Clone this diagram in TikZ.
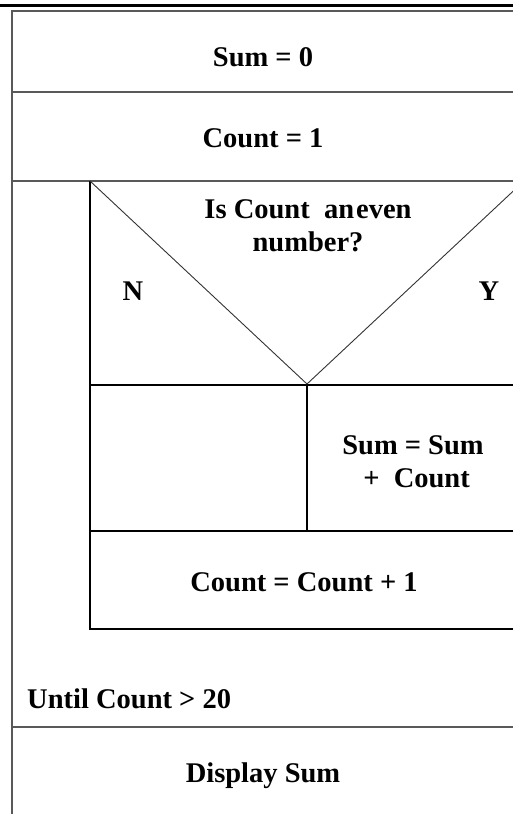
\documentclass[tikz,border=0pt]{standalone}
\usepackage{fontspec}
\setmainfont{Liberation Serif}
\begin{document}
\begin{tikzpicture}[x=1pt,y=-1pt,
  outer/.style={draw=black!65, line width=1.2pt},
  inner/.style={draw=black, line width=1.2pt},
  diag/.style={draw=black!80, line width=0.9pt},
  lbl/.style={font=\fontsize{28.5}{33}\selectfont\bfseries, inner sep=0pt, align=center}]
\clip (0,0) rectangle (513,814);
\fill[white] (0,0) rectangle (513,814);
% header rule
\draw[line width=3pt] (0,5.5) -- (513,5.5);
% outer frame coordinates
\coordinate (o1) at (12,11);
\coordinate (o2) at (524,11);
\coordinate (s1) at (12,92);
\coordinate (s2) at (524,92);
\coordinate (c1) at (12,181);
\coordinate (c2) at (524,181);
\coordinate (u1) at (12,727);
\coordinate (u2) at (524,727);
\coordinate (ob) at (12,830);
% inner frame
\coordinate (i1) at (90,181);
\coordinate (apex) at (307,384);
\coordinate (d1) at (90,385);
\coordinate (d2) at (524,385);
\coordinate (m1) at (307,385);
\coordinate (m2) at (307,531);
\coordinate (e1) at (90,531);
\coordinate (e2) at (524,531);
\coordinate (f1) at (90,629);
\coordinate (f2) at (524,629);
% outer lines
\draw[outer] (o2) -- (o1) -- (ob);
\draw[outer] (s1) -- (s2);
\draw[outer] (c1) -- (c2);
\draw[outer] (u1) -- (u2);
% inner lines
\draw[inner] (i1) -- (f1) -- (f2);
\draw[inner] (d1) -- (d2);
\draw[inner] (m1) -- (m2);
\draw[inner] (e1) -- (e2);
\draw[diag] (i1) -- (apex) -- (c2);
% texts
\node[lbl] (sum0) at (263,57) {Sum = 0};
\node[lbl] (cnt1) at (263,138) {Count = 1};
\node[lbl] (q) at (308,226) {Is Count\ \ an\kern2pt even\\number?};
\node[lbl] (n) at (133,291) {N};
\node[lbl] (y) at (489,291) {Y};
\node[lbl] (add) at (413,462) {Sum = Sum\\\ + \ Count};
\node[lbl] (inc) at (304,582) {Count = Count + 1};
\node[lbl, anchor=west] (until) at (27,699) {Until Count > 20};
\node[lbl] (disp) at (263,776) {Display Sum};
\end{tikzpicture}
\end{document}
